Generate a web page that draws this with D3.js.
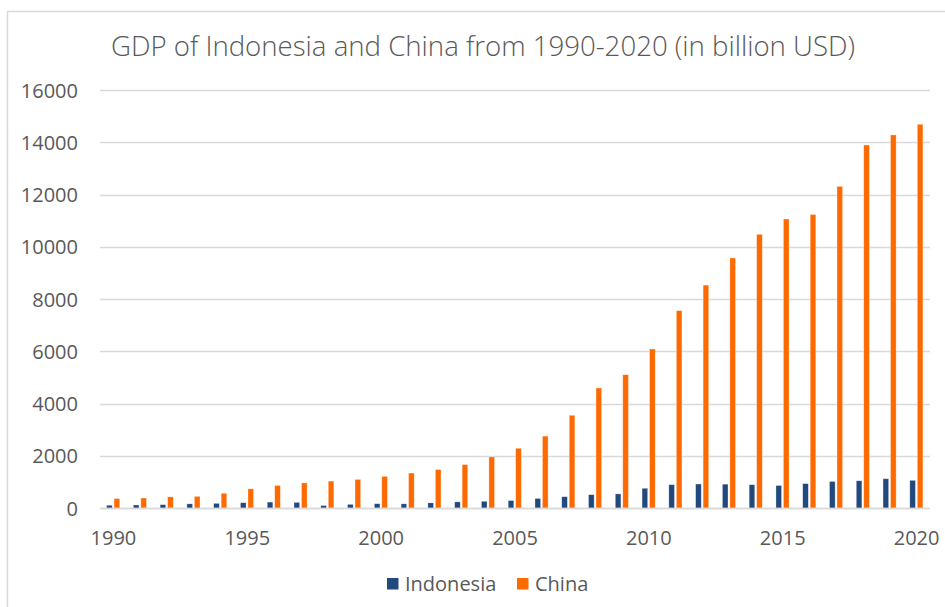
<!DOCTYPE html>
<html>
<head>
<meta charset="utf-8">
<script src="https://cdn.jsdelivr.net/npm/d3@7"></script>
<style>
  html, body { margin: 0; padding: 0; background: #fff; }
  svg { display: block; font-family: "Open Sans", sans-serif; }
</style>
</head>
<body>
<svg id="chart" width="945" height="607"></svg>
<script>
// GDP in billion USD, 1990-2020
const years = d3.range(1990, 2021);
const indonesia = [106, 116, 128, 158, 177, 202, 227, 216, 95, 140, 165, 160, 196, 235, 257, 286, 365, 432, 510, 540, 755, 893, 918, 913, 891, 861, 932, 1016, 1042, 1119, 1059];
const china = [361, 383, 427, 445, 564, 734, 863, 961, 1029, 1094, 1211, 1339, 1471, 1660, 1955, 2286, 2752, 3550, 4594, 5102, 6087, 7552, 8532, 9570, 10476, 11062, 11233, 12310, 13895, 14280, 14688];
const seriesNames = ["Indonesia", "China"];
const seriesColors = ["#22497d", "#ff6a00"];
const yTicks = [0, 2000, 4000, 6000, 8000, 10000, 12000, 14000, 16000];
const xTickYears = [1990, 1995, 2000, 2005, 2010, 2015, 2020];
const titleText = "GDP of Indonesia and China from 1990-2020 (in billion USD)";

const svg = d3.select("#chart");
const textColor = "#595959";
const gridColor = "#d9d9d9";

// chart area frame
svg.append("path")
  .attr("d", "M7.5,607 L7.5,11.5 L945,11.5")
  .attr("fill", "none")
  .attr("stroke", gridColor)
  .attr("stroke-width", 1.5);

const plot = { left: 100, right: 930, top: 90, bottom: 508 };

const x = d3.scaleBand().domain(years).range([plot.left, plot.right]).padding(0);
const y = d3.scaleLinear().domain([0, 16000]).range([plot.bottom, plot.top]);
const xInner = d3.scaleBand().domain(seriesNames).range([0, 13.1]).paddingInner(0.25);

// title
svg.append("text")
  .attr("x", 483).attr("y", 56)
  .attr("text-anchor", "middle")
  .attr("fill", textColor)
  .attr("font-size", 28)
  .attr("font-weight", 300)
  .attr("textLength", 744)
  .attr("lengthAdjust", "spacingAndGlyphs")
  .text(titleText);

// gridlines
svg.append("g")
  .selectAll("line")
  .data(yTicks)
  .join("line")
  .attr("x1", plot.left).attr("x2", plot.right)
  .attr("y1", d => Math.round(y(d)) + 0.5)
  .attr("y2", d => Math.round(y(d)) + 0.5)
  .attr("stroke", gridColor)
  .attr("stroke-width", 1.5);

// y axis labels
const yAxis = d3.axisLeft(y).tickValues(yTicks).tickSize(0).tickPadding(0).tickFormat(d3.format("d"));
const yG = svg.append("g").attr("transform", `translate(${plot.left - 22},0)`).call(yAxis);
yG.select(".domain").remove();
yG.selectAll("text")
  .attr("fill", textColor)
  .attr("font-size", 20)
  .attr("font-family", "Open Sans, sans-serif")
  .attr("dy", "0.35em");

// x axis labels
const xAxis = d3.axisBottom(x).tickValues(xTickYears).tickSize(0).tickPadding(0);
const xG = svg.append("g").attr("transform", `translate(0,${plot.bottom})`).call(xAxis);
xG.select(".domain").remove();
xG.selectAll("text")
  .attr("fill", textColor)
  .attr("font-size", 20)
  .attr("font-family", "Open Sans, sans-serif")
  .attr("y", 37)
  .attr("dy", 0);

// bars
const rows = years.map((yr, i) => ({ year: yr, values: [indonesia[i], china[i]] }));
const groups = svg.append("g")
  .selectAll("g")
  .data(rows)
  .join("g")
  .attr("transform", d => `translate(${x(d.year) + x.bandwidth() / 2 - 6.8},0)`);

groups.selectAll("rect")
  .data(d => d.values.map((v, k) => ({ name: seriesNames[k], value: v, color: seriesColors[k] })))
  .join("rect")
  .attr("x", d => xInner(d.name))
  .attr("width", xInner.bandwidth())
  .attr("y", d => y(d.value))
  .attr("height", d => y(0) - y(d.value))
  .attr("fill", d => d.color)
  .attr("stroke", "rgba(255,255,255,0.5)")
  .attr("stroke-width", 0.6);

// baseline over bars
svg.append("line")
  .attr("x1", plot.left).attr("x2", plot.right)
  .attr("y1", y(0) + 0.5).attr("y2", y(0) + 0.5)
  .attr("stroke", gridColor)
  .attr("stroke-width", 1.5);

// legend
const legendItems = [
  { name: seriesNames[0], color: seriesColors[0], x: 387 },
  { name: seriesNames[1], color: seriesColors[1], x: 517 }
];
const legend = svg.append("g");
legendItems.forEach(item => {
  legend.append("rect")
    .attr("x", item.x).attr("y", 578)
    .attr("width", 11.5).attr("height", 11.5)
    .attr("fill", item.color);
  legend.append("text")
    .attr("x", item.x + 18).attr("y", 591)
    .attr("fill", textColor)
    .attr("font-size", 20)
    .text(item.name);
});
</script>
</body>
</html>
